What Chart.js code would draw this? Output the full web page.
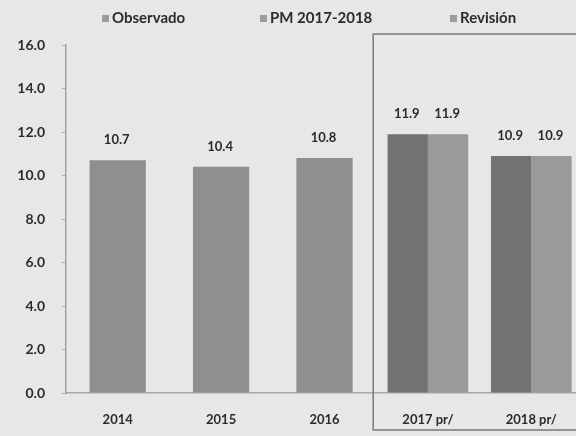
<!DOCTYPE html>
<html>
<head>
<meta charset="utf-8">
<script src="https://cdn.jsdelivr.net/npm/chart.js@4.4.1/dist/chart.umd.min.js"></script>
<style>
  html, body { margin: 0; padding: 0; background: #e7e7e5; overflow: hidden; }
  #chart { display: block; }
</style>
</head>
<body>
<canvas id="chart" width="588" height="436" style="width:588px;height:436px"></canvas>
<script>
// data
var years = ['2014', '2015', '2016', '2017 pr/', '2018 pr/'];
var observado = [10.7, 10.4, 10.8, null, null];
var pm = [null, null, null, 11.9, 10.9];
var revision = [null, null, null, 11.9, 10.9];
var seriesNames = ['Observado', 'PM 2017-2018', 'Revisión'];
var yTicks = [0, 2, 4, 6, 8, 10, 12, 14, 16];

var font = "Lato, 'Open Sans', sans-serif";
var ink = '#2b2b2b';

// value labels on top of each bar
var valueLabels = {
    id: 'valueLabels',
    afterDatasetsDraw: function(chart) {
        var ctx = chart.ctx;
        ctx.save();
        ctx.font = 'bold 13px ' + font;
        ctx.fillStyle = ink;
        ctx.textAlign = 'center';
        ctx.textBaseline = 'middle';
        chart.data.datasets.forEach(function(ds, i) {
            chart.getDatasetMeta(i).data.forEach(function(bar, j) {
                if (ds.data[j] == null) return;
                ctx.fillText(ds.data[j].toFixed(1), bar.x - 1, bar.y - 20);
            });
        });
        ctx.restore();
    }
};

// frame round the projected years
var projBox = {
    id: 'projBox',
    beforeDatasetsDraw: function(chart) {
        var x = chart.scales.x;
        var half = (x.getPixelForValue(1) - x.getPixelForValue(0)) / 2;
        var left = x.getPixelForValue(3) - half - 3;
        var ctx = chart.ctx;
        ctx.save();
        ctx.strokeStyle = '#7a7a7a';
        ctx.lineWidth = 1.5;
        ctx.strokeRect(left, chart.chartArea.top - 11, chart.width, chart.height - chart.chartArea.top + 11 - 6);
        ctx.restore();
    }
};

// legend row at the top, spaced wide like the original
var legendSpots = [102, 260, 450];
var wideLegend = {
    id: 'wideLegend',
    afterDraw: function(chart) {
        var ctx = chart.ctx;
        ctx.save();
        ctx.font = 'bold 15px ' + font;
        ctx.textBaseline = 'middle';
        ctx.textAlign = 'left';
        chart.data.datasets.forEach(function(ds, i) {
            var x = legendSpots[i];
            ctx.fillStyle = '#9c9c9c';
            ctx.fillRect(x, 15, 7, 7);
            ctx.fillStyle = ink;
            ctx.fillText(ds.label, x + 10, 18);
        });
        ctx.restore();
    }
};

new Chart(document.getElementById('chart'), {
    type: 'bar',
    data: {
        labels: years,
        datasets: [
            { label: seriesNames[0], data: observado, backgroundColor: '#8f8f8f',
              categoryPercentage: 0.8, barPercentage: 0.68 },
            { label: seriesNames[1], data: pm, backgroundColor: '#727272',
              categoryPercentage: 0.78, barPercentage: 1.0 },
            { label: seriesNames[2], data: revision, backgroundColor: '#9a9a9a',
              categoryPercentage: 0.78, barPercentage: 1.0 }
        ]
    },
    options: {
        responsive: false,
        animation: false,
        skipNull: true,
        layout: { padding: { left: 12, right: 5, top: 45, bottom: 0 } },
        plugins: {
            legend: { display: false },
            tooltip: { enabled: false }
        },
        scales: {
            x: {
                grid: { display: false },
                border: { display: true, color: '#a8a8a8', width: 1.5 },
                ticks: { color: ink, font: { family: font, size: 13, weight: 'bold' }, padding: 11 },
                afterFit: function(s) { s.height = 43; }
            },
            y: {
                min: 0,
                max: 16,
                afterBuildTicks: function(s) { s.ticks = yTicks.map(function(v) { return { value: v }; }); },
                grid: { display: true, drawOnChartArea: false, drawTicks: true, tickLength: 4, color: '#b0b0b0' },
                border: { display: true, color: '#a0a0a0', width: 1.5 },
                ticks: {
                    color: ink,
                    padding: 17,
                    font: { family: font, size: 14, weight: 'bold' },
                    callback: function(v) { return v.toFixed(1); }
                },
                afterFit: function(s) { s.width = 54; }
            }
        }
    },
    plugins: [projBox, valueLabels, wideLegend]
});
</script>
</body>
</html>
